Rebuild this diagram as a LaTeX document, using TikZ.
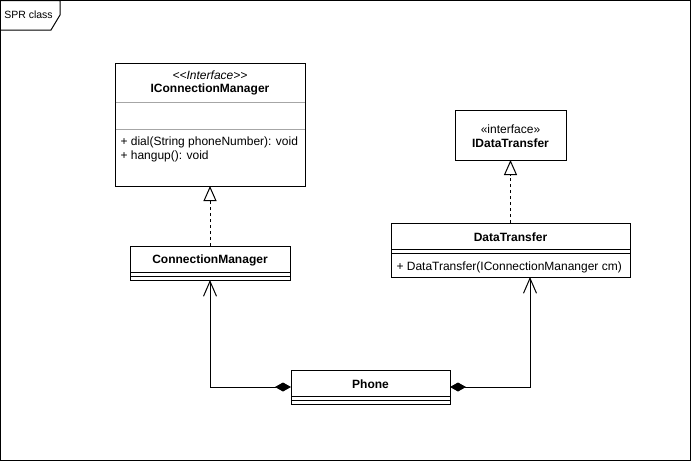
\documentclass[tikz,border=0pt]{standalone}
\usepackage{fontspec}
\setmainfont{Liberation Sans}
\usetikzlibrary{arrows.meta}
\begin{document}
\begin{tikzpicture}[x=1pt,y=-1pt,
  line width=1pt,
  box/.style={draw, line width=1pt, inner sep=0pt, outer sep=0pt, anchor=north west},
  txt/.style={inner sep=0pt, font=\fontsize{12}{14}\selectfont},
  btxt/.style={inner sep=0pt, font=\fontsize{12}{14}\selectfont\bfseries},
  itxt/.style={inner sep=0pt, font=\fontsize{12}{14}\selectfont\itshape},
  mtxt/.style={inner sep=0pt, anchor=west, font=\fontsize{12}{14}\selectfont},
  sep/.style={line width=1pt},
  graysep/.style={line width=1pt, draw=black!35},
  realize/.style={dashed, dash pattern=on 3pt off 3pt, -{Triangle[open,length=15pt,width=13pt]}},
  assoc/.style={{Diamond[length=16pt,width=9pt]}-{Straight Barb[length=15pt,width=13pt]}}
]
\useasboundingbox (0,0) rectangle (691,461);
% frame
\draw (0.5,0.5) rectangle (690.5,460.5);
\draw (0.5,0.5) -- (60,0.5) -- (60,15) -- (51,30) -- (0.5,30);
\node[inner sep=0pt, font=\fontsize{10.5}{12}\selectfont] (frm) at (28.5,15) {SPR class};

% IConnectionManager
\node[box, minimum width=190pt, minimum height=123pt] (icm) at (115,63) {};
\node[itxt] (icmst) at (210,75.5) {<{}<Interface>{}>};
\node[btxt] (icmnm) at (210,89.5) {IConnectionManager};
\draw[graysep] (115.5,102) -- (304.5,102);
\draw[graysep] (115.5,129) -- (304.5,129);
\node[mtxt] (icmm1) at (120,142.5) {+ dial(String phoneNumber): void};
\node[mtxt] (icmm2) at (120,156.5) {+ hangup(): void};

% IDataTransfer
\node[box, minimum width=111pt, minimum height=50pt] (idt) at (455,110) {};
\node[txt] (idtst) at (510.5,129) {«interface»};
\node[btxt] (idtnm) at (510.5,143) {IDataTransfer};

% ConnectionManager
\node[box, minimum width=160pt, minimum height=34pt] (cm) at (130,246) {};
\node[btxt] (cmnm) at (210,260) {ConnectionManager};
\draw[sep] (130,272) -- (290,272);
\draw[sep] (130,276) -- (290,276);

% DataTransfer
\node[box, minimum width=239pt, minimum height=54pt] (dt) at (391,223) {};
\node[btxt] (dtnm) at (510.5,237) {DataTransfer};
\draw[sep] (391,249) -- (630,249);
\draw[sep] (391,253) -- (630,253);
\node[mtxt] (dtm1) at (396,267) {+ DataTransfer(IConnectionMananger cm)};

% Phone
\node[box, minimum width=159pt, minimum height=34pt] (ph) at (291,370) {};
\node[btxt] (phnm) at (370.5,384) {Phone};
\draw[sep] (291,396) -- (450,396);
\draw[sep] (291,400) -- (450,400);

% connectors
\draw[realize] (cm.north) -- (icm.south);
\draw[realize] (dt.north) -- (idt.south);
\coordinate (dtport) at (530,277);
\draw[assoc] (ph.west) -| (cm.south);
\draw[assoc] (ph.east) -| (dtport);
\end{tikzpicture}
\end{document}
